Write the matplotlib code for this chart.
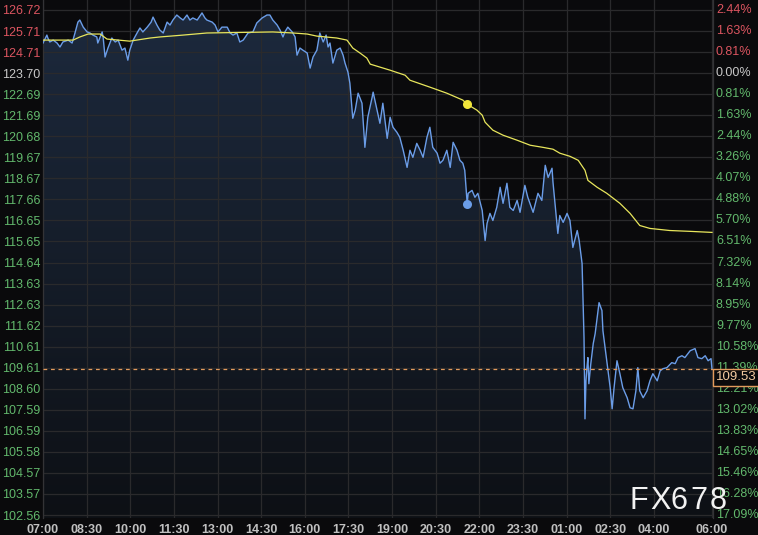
import matplotlib
matplotlib.use('Agg')
import matplotlib.pyplot as plt
import numpy as np
from matplotlib.colors import LinearSegmentedColormap
from matplotlib.patches import Polygon
import matplotlib.transforms as mtransforms

plt.rcParams['font.family'] = ['Liberation Sans', 'DejaVu Sans']

# ---------------- data (minutes since 07:00, price) ----------------
times = [0, 8, 10, 14, 21, 29, 35, 41, 52, 60, 66, 72, 76, 83, 91, 97, 103, 111, 113, 122,
         124, 128, 134, 142, 149, 155, 163, 169, 175, 179, 186, 194, 200, 206, 215, 223, 227, 235, 241, 248,
         256, 262, 268, 276, 283, 289, 297, 303, 309, 318, 328, 334,
         338, 349, 355, 361, 369, 380, 386, 392, 400, 406, 413, 423, 433, 441, 452, 462, 468, 474, 483, 489,
         495, 499, 505, 514, 520, 524, 530, 536, 545, 551, 557, 565, 571, 578, 584, 588, 592, 598, 606, 613,
         619, 623, 629, 633,
         639, 644, 650, 658, 664, 670, 679, 681, 689, 695, 701, 710, 716, 722, 730, 736, 743, 751, 757, 763,
         771, 778, 784, 792, 798, 804, 813, 819, 825, 833, 840, 846, 854, 860, 866, 870, 873, 875, 877, 885,
         891, 897, 906, 912, 916, 922, 928, 936, 943, 949, 957, 963, 970, 978, 984, 994, 1000, 1011, 1021, 1029,
         1036, 1042, 1050, 1052, 1060, 1062, 1066, 1073, 1081, 1087, 1093, 1102, 1106, 1112, 1114, 1116, 1118, 1120, 1122, 1124,
         1126, 1130, 1135, 1139, 1143, 1147, 1153, 1155, 1163, 1170, 1174, 1178, 1184, 1190, 1196, 1205, 1211, 1217, 1223, 1227,
         1231, 1238, 1246, 1252, 1258, 1267, 1273, 1279, 1287, 1297, 1304, 1310, 1318, 1324, 1335, 1345, 1351, 1359, 1366, 1372,
         1378, 1380]
prices = [125.14, 125.52, 125.38, 125.19, 125.28, 125.14, 124.95, 125.19, 125.28, 125.14, 125.62, 126.14, 126.24, 125.90, 125.67, 125.62, 125.52, 125.43, 125.14, 125.67,
          125.43, 124.47, 124.90, 125.38, 125.19, 125.28, 124.80, 124.90, 124.32, 124.80, 125.28, 125.62, 125.86, 125.67, 125.90, 126.14, 126.38, 126.00, 125.76, 125.62,
          126.14, 126.00, 126.24, 126.48, 126.34, 126.24, 126.48, 126.24, 126.34, 126.24, 126.58, 126.34,
          126.24, 126.14, 126.00, 125.67, 125.90, 125.90, 125.62, 125.52, 125.62, 125.19, 125.28, 125.62, 125.67, 126.10, 126.34, 126.48, 126.48, 126.24, 126.00, 125.76,
          125.43, 125.67, 125.90, 125.67, 125.43, 124.56, 124.90, 124.80, 124.66, 123.94, 124.47, 124.80, 125.62, 125.19, 125.52, 124.95, 125.14, 124.18, 124.80, 124.90,
          124.56, 124.18, 123.75, 123.22,
          121.54, 121.93, 122.74, 122.26, 120.15, 121.59, 122.55, 122.79, 121.93, 121.30, 122.26, 120.58, 121.59, 121.11, 120.87, 120.63, 120.01, 119.19, 120.01, 119.67,
          120.34, 120.01, 119.67, 120.63, 121.11, 120.15, 119.87, 119.39, 119.53, 120.01, 119.19, 120.39, 120.01, 119.53, 119.39, 119.05, 118.09, 117.47, 117.95, 118.09,
          117.76, 117.95, 117.13, 115.69, 116.51, 116.99, 116.65, 117.28, 118.24, 117.47, 118.43, 117.28, 117.13, 117.61, 117.04, 118.33, 117.76, 117.04, 117.95, 117.61,
          119.29, 118.71, 119.15, 118.48, 116.51, 116.03, 116.89, 116.56, 116.99, 116.65, 115.36, 116.17, 115.69, 114.59, 112.82, 111.04, 107.16, 108.98, 109.61, 110.09,
          108.84, 109.80, 110.76, 111.24, 112.00, 112.72, 112.34, 111.38, 109.94, 108.65, 107.64, 108.65, 109.94, 109.32, 108.65, 108.17, 107.69, 107.64, 108.50, 109.61,
          108.50, 108.17, 108.50, 108.98, 109.32, 108.98, 109.46, 109.56, 109.61, 109.85, 109.80, 110.09, 110.18, 110.09, 110.42, 110.52, 110.09, 110.04, 110.18, 109.94,
          110.04, 109.53]

avg_times = [0, 62, 76, 93, 118, 132, 179, 221, 241, 289, 338, 474, 516, 545, 565, 606, 627, 639, 654, 668,
             675, 716, 747, 757, 798, 833, 866, 875, 895, 906, 912, 928, 949, 978, 1005, 1031, 1052, 1066, 1087, 1104,
             1118, 1124, 1143, 1163, 1190, 1211, 1231, 1252, 1293, 1335, 1380]
avg_prices = [125.28, 125.28, 125.43, 125.57, 125.57, 125.33, 125.23, 125.38, 125.43, 125.52, 125.62, 125.67, 125.62, 125.57, 125.47, 125.38, 125.28, 124.90, 124.66, 124.42,
              124.13, 123.84, 123.60, 123.36, 123.03, 122.74, 122.41, 122.21, 121.93, 121.69, 121.35, 120.97, 120.73, 120.49, 120.25, 120.15, 120.06, 119.87, 119.72, 119.53,
              119.05, 118.57, 118.24, 117.95, 117.47, 116.99, 116.41, 116.27, 116.17, 116.13, 116.08]

price_ticks = ["126.72", "125.71", "124.71", "123.70", "122.69", "121.69", "120.68", "119.67", "118.67",
               "117.66", "116.65", "115.65", "114.64", "113.63", "112.63", "111.62", "110.61", "109.61",
               "108.60", "107.59", "106.59", "105.58", "104.57", "103.57", "102.56"]
pct_ticks = ["2.44%", "1.63%", "0.81%", "0.00%", "0.81%", "1.63%", "2.44%", "3.26%", "4.07%",
             "4.88%", "5.70%", "6.51%", "7.32%", "8.14%", "8.95%", "9.77%", "10.58%", "11.39%",
             "12.21%", "13.02%", "13.83%", "14.65%", "15.46%", "16.28%", "17.09%"]
x_tick_minutes = [0, 90, 180, 270, 360, 450, 540, 630, 720, 810, 900, 990, 1080, 1170, 1260, 1380]
x_tick_labels = ["07:00", "08:30", "10:00", "11:30", "13:00", "14:30", "16:00", "17:30", "19:00",
                 "20:30", "22:00", "23:30", "01:00", "02:30", "04:00", "06:00"]
prev_close = 123.70
last_price = 109.53
marker_time = 875
marker_price = 117.42
marker_avg = 122.21
watermark = "FX678"

# ---------------- styling ----------------
W, H = 758, 535
BG = '#0a0a0c'
GRID = '#2a2a2c'
RED = '#dc5560'
GREEN = '#62b86c'
NEUTRAL = '#c8c8c8'
BLUE = '#6b9de8'
YELLOW = '#e8e65c'
ORANGE = '#e29a5c'

fig = plt.figure(figsize=(W / 100, H / 100), dpi=100, facecolor=BG)
ax_left_px, ax_right_px, ax_top_px, ax_bot_px = 43, 713, 0, 518
ax = fig.add_axes([ax_left_px / W, 1 - ax_bot_px / H, (ax_right_px - ax_left_px) / W, (ax_bot_px - ax_top_px) / H])
ax.set_facecolor(BG)

tick_vals = [float(s) for s in price_ticks]
top_tick_px, bot_tick_px = 10, 515
ppu = (bot_tick_px - top_tick_px) / (tick_vals[0] - tick_vals[-1])
ymax = tick_vals[0] + (top_tick_px - ax_top_px) / ppu
ymin = tick_vals[-1] - (ax_bot_px - bot_tick_px) / ppu
xmax = x_tick_minutes[-1] * (ax_right_px - ax_left_px) / (712 - ax_left_px)

# gradient fill under the price line
verts = [(times[0], ymin)] + list(zip(times, prices)) + [(times[-1], ymin)]
patch = Polygon(verts, closed=True, fc='none', ec='none')
ax.add_patch(patch)
grad = np.linspace(0, 1, 256).reshape(-1, 1)
cmap = LinearSegmentedColormap.from_list('fillg', ['#0d1015', '#1d2a3e'])
im = ax.imshow(grad, extent=[times[0], times[-1], ymin, ymax], aspect='auto', cmap=cmap,
               origin='lower', zorder=1, interpolation='bilinear')
im.set_clip_path(patch)

ax.plot(times, prices, color=BLUE, lw=1.0, zorder=3)
ax.plot(avg_times, avg_prices, color=YELLOW, lw=0.9, zorder=3)
ax.plot([marker_time], [marker_price], 'o', ms=6.5, color=BLUE, mec='none', zorder=4)
ax.plot([marker_time], [marker_avg], 'o', ms=6.5, color='#f2e63a', mec='none', zorder=4)

ax.axhline(last_price, color=ORANGE, lw=0.9, ls=(0, (3, 3)), zorder=4)

ax.set_xlim(0, xmax)
ax.set_ylim(ymin, ymax)

ax.set_axisbelow('line')
ax.set_yticks(tick_vals)
ax.set_yticklabels(price_ticks)
ax.set_xticks(x_tick_minutes)
ax.set_xticklabels(x_tick_labels)
ax.grid(True, color=GRID, lw=0.9)
ax.tick_params(axis='y', length=0, pad=2, labelsize=9)
ax.tick_params(axis='x', length=0, pad=4, labelsize=9, labelcolor='#c0c0c0')
for lab in ax.get_xticklabels():
    lab.set_fontweight('bold')
for lab, v in zip(ax.get_yticklabels(), tick_vals):
    lab.set_color(RED if v > prev_close + 1e-9 else (GREEN if v < prev_close - 1e-9 else NEUTRAL))

for s in ['top', 'bottom']:
    ax.spines[s].set_visible(False)
for s in ['left', 'right']:
    ax.spines[s].set_color('#333336')
    ax.spines[s].set_linewidth(0.9)

# right axis percentage labels
trans = mtransforms.blended_transform_factory(ax.transAxes, ax.transData)
off = mtransforms.ScaledTranslation(3 / 100, 0, fig.dpi_scale_trans)
for v, lab in zip(tick_vals, pct_ticks):
    c = RED if v > prev_close + 1e-9 else (GREEN if v < prev_close - 1e-9 else NEUTRAL)
    ax.text(1.0, v, lab, transform=trans + off, ha='left', va='center', fontsize=9,
            color=c, clip_on=False, zorder=5)

# last price box
ax.text(1.0, last_price, f'{last_price:.2f}',
        transform=trans + mtransforms.ScaledTranslation(3 / 100, -2 / 100, fig.dpi_scale_trans),
        ha='left', va='top', fontsize=9.5, color='#f3caa0', clip_on=False, zorder=10,
        bbox=dict(boxstyle='square,pad=0.2', fc=BG, ec=ORANGE, lw=1.0))

# watermark (letter-spaced)
wm_x0, wm_step, wm_base = 630, 20, 509
for i, ch in enumerate(watermark):
    fig.text((wm_x0 + i * wm_step) / W, 1 - wm_base / H, ch, fontsize=22, color='#f2f2f2',
             ha='left', va='baseline', zorder=20)

fig.savefig('out.png', dpi=100, facecolor=BG)
